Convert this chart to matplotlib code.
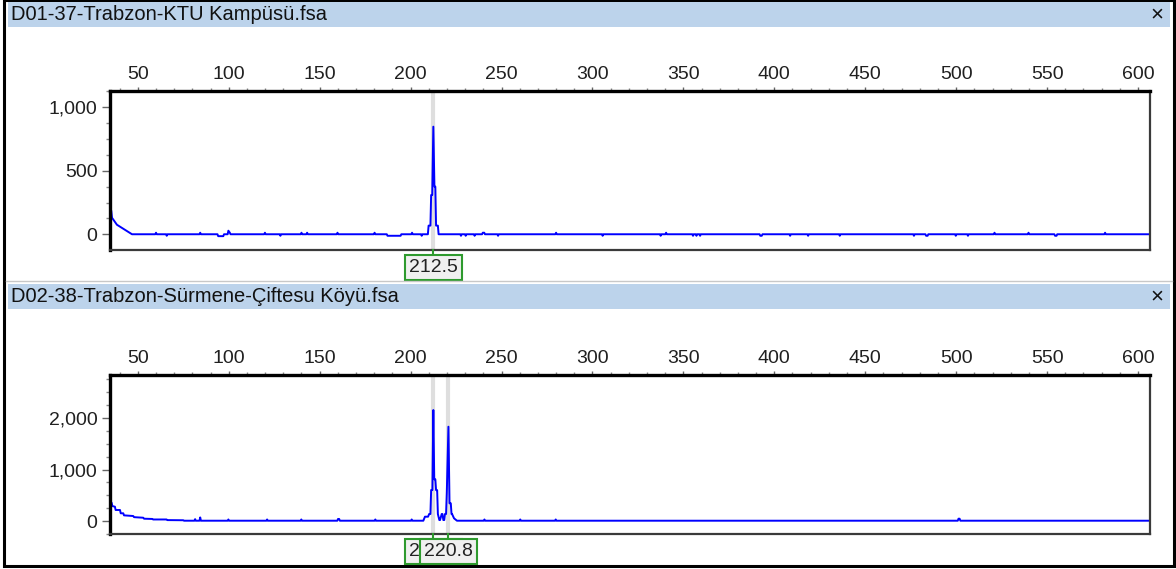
import matplotlib.pyplot as plt
from matplotlib.patches import Rectangle
from matplotlib.lines import Line2D
from matplotlib.ticker import MultipleLocator, StrMethodFormatter
import matplotlib.transforms as mtransforms

plt.rcParams['font.family'] = ['Liberation Sans', 'DejaVu Sans']

# sample names (title bars)
titles = ['D01-37-Trabzon-KTU Kampüsü.fsa',
          'D02-38-Trabzon-Sürmene-Çiftesu Köyü.fsa']

# panel 1 trace: fragment size (bp) / signal (RFU)
size1 = [34.7, 35.4, 35.8, 38.5, 42.9, 46.8,
         59.6, 60.0, 60.4, 65.5, 65.9, 66.3, 83.9, 84.3, 84.7,
         93.8, 94.2, 97.0, 97.4, 99.4, 99.8, 100.6, 101.0,
         119.5, 119.9, 120.3, 128.0, 128.4, 128.8, 139.6, 140.0, 140.4,
         142.7, 143.1, 143.5, 159.4, 159.8, 160.2, 179.8, 180.2, 180.6,
         186.9, 187.3, 194.5, 194.9, 200.4, 200.8, 201.2, 205.7, 206.1, 206.5,
         209.5, 209.9, 210.9, 211.3, 211.9, 212.5, 213.1, 213.6, 214.0, 215.0, 215.4,
         227.3, 227.7, 228.1, 229.9, 230.3, 230.7, 234.8, 235.2, 235.6,
         239.3, 239.7, 240.5, 240.9, 247.7, 248.1, 248.5, 279.6, 280.0, 280.4,
         305.2, 305.6, 306.0, 337.1, 337.5, 337.9, 340.1, 340.5, 340.9,
         354.9, 355.3, 355.7, 356.8, 357.2, 357.6, 358.8, 359.2, 359.6,
         391.9, 392.3, 393.1, 393.5, 408.3, 408.7, 409.1, 418.2, 418.6, 419.0,
         435.6, 436.0, 436.4, 476.4, 476.8, 477.2, 483.1, 483.5, 484.3, 484.7,
         499.4, 499.8, 500.2, 506.1, 506.5, 506.9, 520.7, 521.1, 521.5,
         539.4, 539.8, 540.2, 554.0, 554.4, 555.2, 555.6, 581.5, 581.9, 582.3,
         606.6]
rfu1 = [190, 185, 130, 75, 35, 0,
        0, 12, 0, 0, -12, 0, 0, 12, 0,
        0, -15, -15, 0, 0, 28, 12, 0,
        0, 12, 0, 0, -12, 0, 0, 12, 0,
        0, 12, 0, 0, 12, 0, 0, 12, 0,
        0, -12, -12, 0, 0, 12, 0, 0, -12, 0,
        0, 68, 68, 309, 309, 847, 375, 375, 68, 68, 0,
        0, -12, 0, 0, -12, 0, 0, -12, 0,
        0, 12, 12, 0, 0, -12, 0, 0, 12, 0,
        0, -12, 0, 0, -12, 0, 0, 12, 0,
        0, -12, 0, 0, -12, 0, 0, -12, 0,
        0, -12, -12, 0, 0, -12, 0, 0, -12, 0,
        0, -12, 0, 0, -12, 0, 0, -12, -12, 0,
        0, -12, 0, 0, -12, 0, 0, 12, 0,
        0, 12, 0, 0, -12, -12, 0, 0, 12, 0,
        0]

# panel 2 trace
size2 = [34.7, 35.6, 36.0, 37.4, 37.8, 40.2, 40.6, 42.0, 42.4, 47.5, 47.9,
         53.0, 53.4, 58.0, 58.4, 65.8, 66.2, 75.0, 75.4,
         81.1, 81.5, 81.9, 83.9, 84.3, 84.7, 99.4, 99.8, 100.2,
         120.7, 121.1, 121.5, 139.5, 139.9, 140.3, 159.7, 160.1, 160.7, 161.1,
         180.2, 180.6, 181.0, 200.2, 200.6, 201.0,
         207.0, 207.9, 209.6, 210.2, 210.9, 211.3, 212.0, 212.5, 213.0, 213.6,
         214.0, 214.6, 215.0, 215.8, 216.2, 217.1, 217.5, 218.0, 218.5, 218.9,
         219.5, 219.9, 220.8, 221.4, 222.1, 222.5, 222.8, 223.9, 225.5,
         240.2, 240.6, 241.0, 259.9, 260.3, 260.7, 279.4, 279.8, 280.2,
         500.9, 501.3, 501.9, 502.3, 606.6]
rfu2 = [380, 355, 290, 278, 214, 214, 150, 150, 110, 97, 75,
        64, 45, 40, 30, 30, 18, 15, 6,
        6, 36, 6, 6, 70, 6, 6, 30, 6,
        6, 30, 6, 6, 30, 6, 6, 40, 40, 6,
        6, 30, 6, 6, 30, 6,
        6, 84, 84, 136, 136, 602, 602, 2155, 810, 810,
        600, 600, 136, 19, 19, 136, 136, 19, 19, 136,
        136, 538, 1831, 344, 344, 136, 136, 52, 6,
        6, 30, 6, 6, 30, 6, 6, 30, 6,
        6, 45, 45, 6, 6]

peaks1 = [212.5]
peaks2 = [212.5, 220.8]
peak_labels1 = ['212.5']
peak_labels2 = ['212.5', '220.8']

W, H = 1176, 569
fig = plt.figure(figsize=(W / 100, H / 100), dpi=100)
fig.patch.set_facecolor('white')


def fx(px):
    return px / W


def fy(py):
    return 1 - py / H


# outer frame + title bars
fig.add_artist(Rectangle((fx(4), fy(566)), fx(1170), (566 - 0) / H,
                         transform=fig.transFigure, fill=False,
                         edgecolor='black', lw=2.2, zorder=0))
for top, title in [(2, titles[0]), (284, titles[1])]:
    fig.add_artist(Rectangle((fx(8), fy(top + 25)), fx(1162), 25 / H,
                             transform=fig.transFigure, facecolor='#bcd3eb',
                             edgecolor='none', zorder=1))
    fig.text(fx(11), fy(top + 12.5), title, fontsize=14.5, va='center',
             ha='left', color='#111111')
    fig.text(fx(1157), fy(top + 12.5), '×', fontsize=16, va='center',
             ha='center', color='#111111')
fig.add_artist(Line2D([fx(6), fx(1172)], [fy(281), fy(281)],
                      transform=fig.transFigure, color='#c8c8c8', lw=1))


def panel(bottom_px, sizes, rfus, ylim, ymajor, yminor, peaks, labels):
    ax = fig.add_axes([fx(110), fy(bottom_px), fx(1040), 159 / H])
    ax.plot(sizes, rfus, color='#0000ff', lw=1.4, zorder=2)
    for p in peaks:
        ax.axvline(p, color='#dedede', lw=3, zorder=1)
    ax.set_xlim(34.7, 606.6)
    ax.set_ylim(*ylim)
    ax.xaxis.tick_top()
    ax.xaxis.set_major_locator(MultipleLocator(50))
    ax.xaxis.set_minor_locator(MultipleLocator(10))
    ax.yaxis.set_major_locator(MultipleLocator(ymajor))
    ax.yaxis.set_minor_locator(MultipleLocator(yminor))
    ax.yaxis.set_major_formatter(StrMethodFormatter('{x:,.0f}'))
    ax.tick_params(axis='x', which='major', length=3, width=1,
                   color='#666666', labelsize=14, pad=3,
                   labelcolor='#202020')
    ax.tick_params(axis='x', which='minor', length=2, width=1,
                   color='#888888')
    ax.tick_params(axis='y', which='major', length=6, width=1,
                   color='#666666', labelsize=14, pad=3,
                   labelcolor='#202020')
    ax.tick_params(axis='y', which='minor', length=3, width=1,
                   color='#888888')
    ax.spines['top'].set_linewidth(2.4)
    ax.spines['left'].set_linewidth(2.4)
    ax.spines['top'].set_color('black')
    ax.spines['left'].set_color('black')
    ax.spines['bottom'].set_linewidth(1.6)
    ax.spines['right'].set_linewidth(1.6)
    ax.spines['bottom'].set_color('#3a3a3a')
    ax.spines['right'].set_color('#3a3a3a')
    trans = mtransforms.blended_transform_factory(ax.transData, ax.transAxes)
    for i, (p, lab) in enumerate(zip(peaks, labels)):
        ax.plot([p, p], [0, -0.025], transform=trans, color='#2e9a2e',
                lw=1.5, clip_on=False, zorder=3)
        ax.text(p, -0.11, lab, transform=trans, ha='center', va='center',
                fontsize=14, color='#222222', zorder=4 + i,
                bbox=dict(boxstyle='square,pad=0.2', facecolor='#f0f0f0',
                          edgecolor='#2e9a2e', lw=1.5))
    return ax


panel(250, size1, rfu1, (-124, 1128), 500, 125, peaks1, peak_labels1)
panel(534, size2, rfu2, (-252, 2835), 1000, 250, peaks2, peak_labels2)

fig.savefig('out.png', dpi=100)
